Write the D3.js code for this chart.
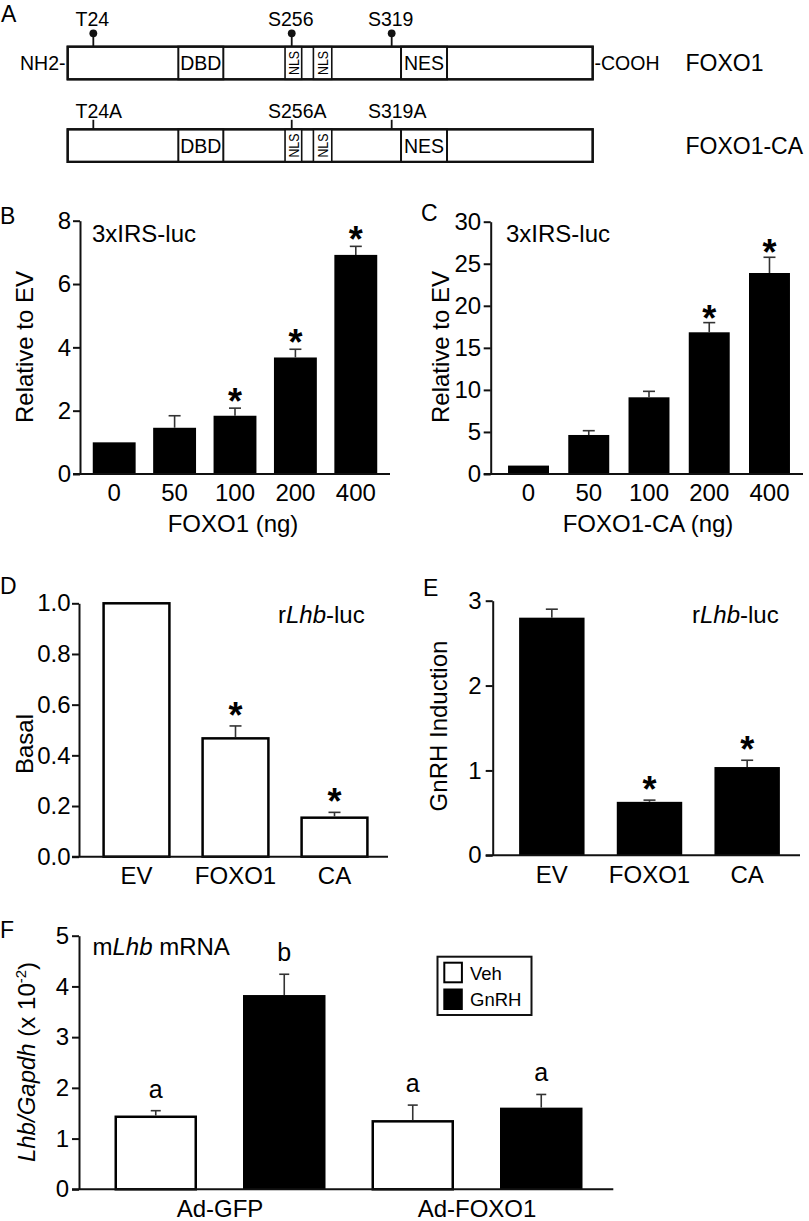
<!DOCTYPE html>
<html><head><meta charset="utf-8">
<script src="https://cdn.jsdelivr.net/npm/d3@7"></script>
<style>
body{margin:0;background:#fff}
svg{display:block}
text{font-family:"Liberation Sans",Arial,Helvetica,sans-serif;fill:#000}
</style>
</head><body>
<svg id="fig" width="809" height="1221"></svg>
<script>
// ---------------- DATA ----------------
// Panel A (schematic positions in relative units 0-100 along the protein)
const domainNames = ["DBD", "NLS", "NLS", "NES"];
const domainStarts = [21.07, 41.40, 46.80, 63.49];
const domainEnds = [29.64, 44.57, 50.30, 72.25];
const siteLabels = ["T24", "S256", "S319"];
const mutantLabels = ["T24A", "S256A", "S319A"];
const sitePositions = [4.88, 42.67, 61.71];

// Panel B
const doseLabels = ["0", "50", "100", "200", "400"];
const foxo1Values = [1.0, 1.46, 1.84, 3.68, 6.92];
const foxo1Errors = [0, 0.38, 0.24, 0.26, 0.27];
const foxo1Sig = [false, false, true, true, true];
const bTicks = [0, 2, 4, 6, 8];

// Panel C
const caValues = [1.0, 4.64, 9.12, 16.85, 23.9];
const caErrors = [0, 0.51, 0.71, 1.15, 1.87];
const caSig = [false, false, false, true, true];
const cTicks = [0, 5, 10, 15, 20, 25, 30];

// Panel D
const constructLabels = ["EV", "FOXO1", "CA"];
const basalValues = [1.0, 0.467, 0.154];
const basalErrors = [0, 0.049, 0.021];
const basalSig = [false, true, true];
const dTicks = [0, 0.2, 0.4, 0.6, 0.8, 1.0];

// Panel E
const inductionValues = [2.80, 0.63, 1.04];
const inductionErrors = [0.10, 0.02, 0.08];
const inductionSig = [false, true, true];
const eTicks = [0, 1, 2, 3];

// Panel F
const adLabels = ["Ad-GFP", "Ad-FOXO1"];
const treatments = ["Veh", "GnRH"];
const vehValues = [1.43, 1.34];
const vehErrors = [0.12, 0.32];
const gnrhValues = [3.83, 1.61];
const gnrhErrors = [0.41, 0.26];
const vehLetters = ["a", "a"];
const gnrhLetters = ["b", "a"];
const fTicks = [0, 1, 2, 3, 4, 5];

// ---------------- DRAWING ----------------
const svg = d3.select("#fig");
const FS = 24;

function panelLetter(t, x, y) {
  svg.append("text").attr("x", x).attr("y", y).attr("font-size", 23).text(t);
}

function styleAxis(g, fs) {
  g.attr("font-size", fs).attr("font-family", '"Liberation Sans",Arial,sans-serif');
  g.selectAll("path.domain").attr("stroke", "#111").attr("stroke-width", 2);
  g.selectAll(".tick line").attr("stroke", "#111").attr("stroke-width", 2);
  g.selectAll(".tick text").attr("fill", "#000");
}

function barPanel(o) {
  const g = svg.append("g");
  const y = d3.scaleLinear().domain(o.domain).range([o.yBottom, o.yTop]);
  const x = d3.scaleBand().domain(o.cats).range(o.xRange).paddingInner(o.pad).paddingOuter(o.pad / 2);
  const white = o.fill === "#fff";
  const rows = o.values.map((v, i) => ({v, e: o.errors[i], s: o.sig[i], c: o.cats[i]}));
  const cx = d => x(d.c) + x.bandwidth() / 2;
  g.selectAll("rect.bar").data(rows).join("rect")
    .attr("class", "bar")
    .attr("x", d => x(d.c) + (white ? 1.25 : 0))
    .attr("width", x.bandwidth() - (white ? 2.5 : 0))
    .attr("y", d => y(d.v))
    .attr("height", d => y(0) - y(d.v))
    .attr("fill", o.fill)
    .attr("stroke", white ? "#000" : "none")
    .attr("stroke-width", white ? 2.5 : 0);
  const withErr = rows.filter(d => d.e > 0);
  g.selectAll("line.err").data(withErr).join("line").attr("class", "err")
    .attr("x1", cx).attr("x2", cx)
    .attr("y1", d => y(d.v) - (white ? 1.2 : 0))
    .attr("y2", d => y(d.v + d.e))
    .attr("stroke", "#333").attr("stroke-width", 1.6);
  g.selectAll("line.cap").data(withErr).join("line").attr("class", "cap")
    .attr("x1", d => cx(d) - 6).attr("x2", d => cx(d) + 6)
    .attr("y1", d => y(d.v + d.e)).attr("y2", d => y(d.v + d.e))
    .attr("stroke", "#333").attr("stroke-width", 1.6);
  g.selectAll("text.sig").data(rows.filter(d => d.s)).join("text").attr("class", "sig")
    .attr("x", cx)
    .attr("y", d => y(d.v + d.e) - o.starGap + 21)
    .attr("text-anchor", "middle")
    .attr("font-size", 36).attr("font-weight", "bold")
    .text("*");
  const ya = g.append("g").attr("transform", `translate(${o.axisX},0)`)
    .call(d3.axisLeft(y).tickValues(o.ticks).tickSize(7).tickSizeOuter(0)
      .tickPadding(o.tickPad).tickFormat(o.fmt || d3.format("d")));
  styleAxis(ya, FS);
  const xa = g.append("g").attr("transform", `translate(0,${y(0)})`)
    .call(d3.axisBottom(x).tickSize(0).tickPadding(o.xPad));
  styleAxis(xa, FS);
  xa.select("path.domain").remove();
  g.append("line").attr("x1", o.axisX - 7).attr("x2", o.xEnd)
    .attr("y1", y(0)).attr("y2", y(0)).attr("stroke", "#111").attr("stroke-width", 2);
  const yl = g.append("text")
    .attr("transform", `translate(${o.ylX},${o.ylY}) rotate(-90)`)
    .attr("text-anchor", "middle").attr("font-size", FS);
  o.ylabel(yl);
  if (o.xtitle) {
    g.append("text").attr("x", o.xtitle[1]).attr("y", o.xtitle[2])
      .attr("text-anchor", "middle").attr("font-size", FS).text(o.xtitle[0]);
  }
  return {x, y, g};
}

// ---- Panel A ----
panelLetter("A", 1, 22);
const protein = d3.scaleLinear().domain([0, 100]).range([67.7, 592.7]);
const proteinRows = [{top: 46.7, labels: siteLabels, pin: true, name: "FOXO1"},
                     {top: 129.3, labels: mutantLabels, pin: false, name: "FOXO1-CA"}];
const boxH = 32.6;
const AFS = 19.5;
proteinRows.forEach((r, ri) => {
  const g = svg.append("g");
  g.append("rect").attr("x", protein(0)).attr("y", r.top)
    .attr("width", protein(100) - protein(0)).attr("height", boxH)
    .attr("fill", "#fff").attr("stroke", "#111").attr("stroke-width", 2.2);
  domainNames.forEach((n, i) => {
    const x0 = protein(domainStarts[i]), x1 = protein(domainEnds[i]);
    g.append("rect").attr("x", x0).attr("y", r.top).attr("width", x1 - x0).attr("height", boxH)
      .attr("fill", "#fff").attr("stroke", "#111").attr("stroke-width", n === "NLS" ? 1.6 : 2);
    const cx = (x0 + x1) / 2, cy = r.top + boxH / 2;
    if (n === "NLS") {
      g.append("text").attr("transform", `translate(${cx + 5.2},${cy}) rotate(-90)`)
        .attr("text-anchor", "middle").attr("font-size", 14.5)
        .attr("textLength", 24).attr("lengthAdjust", "spacingAndGlyphs").text(n);
    } else {
      g.append("text").attr("x", cx).attr("y", cy + 7).attr("text-anchor", "middle")
        .attr("font-size", 19.5).text(n);
    }
  });
  g.append("rect").attr("x", protein(0)).attr("y", r.top)
    .attr("width", protein(100) - protein(0)).attr("height", boxH)
    .attr("fill", "none").attr("stroke", "#111").attr("stroke-width", 2.2);
  sitePositions.forEach((p, i) => {
    const px = protein(p);
    if (r.pin) {
      g.append("line").attr("x1", px).attr("x2", px).attr("y1", r.top - 13).attr("y2", r.top)
        .attr("stroke", "#111").attr("stroke-width", 1.8);
      g.append("circle").attr("cx", px).attr("cy", r.top - 13.4).attr("r", 3.9).attr("fill", "#111");
      g.append("text").attr("x", px - 1).attr("y", r.top - 20.5).attr("text-anchor", "middle")
        .attr("font-size", AFS).text(r.labels[i]);
    } else {
      g.append("line").attr("x1", px).attr("x2", px).attr("y1", r.top - 9.5).attr("y2", r.top)
        .attr("stroke", "#111").attr("stroke-width", 1.8);
      const tmp = g.append("text").attr("font-size", AFS).text(siteLabels[i]);
      const w = tmp.node().getComputedTextLength();
      tmp.remove();
      g.append("text").attr("x", px - 1 - w / 2).attr("y", r.top - 11.3)
        .attr("font-size", AFS).text(r.labels[i]);
    }
  });
  if (ri === 0) {
    g.append("text").attr("x", 65.5).attr("y", r.top + 23.5).attr("text-anchor", "end")
      .attr("font-size", AFS).text("NH2-");
    g.append("text").attr("x", 594.5).attr("y", r.top + 23.5)
      .attr("font-size", AFS).text("-COOH");
  }
  g.append("text").attr("x", 685.5).attr("y", r.top + 24.3).attr("font-size", 23).text(r.name);
});

// ---- Panel B ----
panelLetter("B", 0, 224);
const pb = barPanel({
  cats: doseLabels, values: foxo1Values, errors: foxo1Errors, sig: foxo1Sig,
  domain: [0, 8], yBottom: 474, yTop: 220.7, xRange: [84, 386], pad: 0.29,
  fill: "#000", ticks: bTicks, axisX: 80, xEnd: 390, tickPad: 2, xPad: 9.5,
  starGap: 15, ylX: 33, ylY: 347,
  ylabel: t => t.text("Relative to EV"), xtitle: ["FOXO1 (ng)", 233, 532]
});
pb.g.append("text").attr("x", 92).attr("y", 242).attr("font-size", FS).text("3xIRS-luc");

// ---- Panel C ----
panelLetter("C", 421, 221);
const pc = barPanel({
  cats: doseLabels, values: caValues, errors: caErrors, sig: caSig,
  domain: [0, 30], yBottom: 474, yTop: 221.7, xRange: [498.4, 799.6], pad: 0.32,
  fill: "#000", ticks: cTicks, axisX: 490.7, xEnd: 803, tickPad: 2.5, xPad: 9.5,
  starGap: 13, ylX: 449, ylY: 347,
  ylabel: t => t.text("Relative to EV"), xtitle: ["FOXO1-CA (ng)", 648, 532]
});
pc.g.append("text").attr("x", 506).attr("y", 242).attr("font-size", FS).text("3xIRS-luc");

// ---- Panel D ----
panelLetter("D", 0, 594);
const pd = barPanel({
  cats: constructLabels, values: basalValues, errors: basalErrors, sig: basalSig,
  domain: [0, 1], yBottom: 856.7, yTop: 603.3, xRange: [87, 384], pad: 0.31,
  fill: "#fff", ticks: dTicks, axisX: 79, xEnd: 388, tickPad: 1.5, xPad: 9.8,
  fmt: d3.format(".1f"), starGap: 19, ylX: 33, ylY: 744,
  ylabel: t => t.text("Basal")
});
function lhbLuc(g, x, y) {
  const t = g.append("text").attr("x", x).attr("y", y).attr("font-size", FS);
  t.append("tspan").text("r");
  t.append("tspan").attr("font-style", "italic").text("Lhb");
  t.append("tspan").text("-luc");
}
lhbLuc(pd.g, 278, 623);

// ---- Panel E ----
panelLetter("E", 423, 596);
const pe = barPanel({
  cats: constructLabels, values: inductionValues, errors: inductionErrors, sig: inductionSig,
  domain: [0, 3], yBottom: 855.3, yTop: 600.7, xRange: [503, 796], pad: 0.33,
  fill: "#000", ticks: eTicks, axisX: 492.7, xEnd: 800, tickPad: 4, xPad: 11,
  starGap: 19, ylX: 447, ylY: 726,
  ylabel: t => t.text("GnRH Induction")
});
lhbLuc(pe.g, 692, 623);

// ---- Panel F ----
panelLetter("F", 0, 938);
(function () {
  const g = svg.append("g");
  const y = d3.scaleLinear().domain([0, 5]).range([1189.3, 935.7]);
  const x0 = d3.scaleBand().domain(adLabels).range([91.5, 605.5]).padding(0);
  const x1 = d3.scaleBand().domain(treatments).range([0, x0.bandwidth()]).paddingInner(0.358).paddingOuter(0.179);
  const series = [
    {t: "Veh", values: vehValues, errors: vehErrors, letters: vehLetters, fill: "#fff"},
    {t: "GnRH", values: gnrhValues, errors: gnrhErrors, letters: gnrhLetters, fill: "#000"}
  ];
  series.forEach(s => {
    const white = s.fill === "#fff";
    const sg = g.append("g");
    const rows = s.values.map((v, i) => ({v, e: s.errors[i], l: s.letters[i], a: adLabels[i]}));
    const cx = d => x0(d.a) + x1(s.t) + x1.bandwidth() / 2;
    sg.selectAll("rect").data(rows).join("rect")
      .attr("x", d => x0(d.a) + x1(s.t) + (white ? 1.25 : 0))
      .attr("width", x1.bandwidth() - (white ? 2.5 : 0))
      .attr("y", d => y(d.v)).attr("height", d => y(0) - y(d.v))
      .attr("fill", s.fill).attr("stroke", white ? "#000" : "none").attr("stroke-width", white ? 2.5 : 0);
    sg.selectAll("line.v").data(rows).join("line").attr("class", "v")
      .attr("x1", cx).attr("x2", cx)
      .attr("y1", d => y(d.v) - (white ? 1.2 : 0)).attr("y2", d => y(d.v + d.e))
      .attr("stroke", "#333").attr("stroke-width", 1.6);
    sg.selectAll("line.c").data(rows).join("line").attr("class", "c")
      .attr("x1", d => cx(d) - 5).attr("x2", d => cx(d) + 5)
      .attr("y1", d => y(d.v + d.e)).attr("y2", d => y(d.v + d.e))
      .attr("stroke", "#333").attr("stroke-width", 1.6);
    sg.selectAll("text").data(rows).join("text")
      .attr("x", cx).attr("y", d => y(d.v + d.e) - 13)
      .attr("text-anchor", "middle").attr("font-size", 25)
      .text(d => d.l);
  });
  const ya = g.append("g").attr("transform", "translate(79,0)")
    .call(d3.axisLeft(y).tickValues(fTicks).tickSize(7).tickSizeOuter(0).tickPadding(3).tickFormat(d3.format("d")));
  styleAxis(ya, FS);
  const xa = g.append("g").attr("transform", `translate(0,${y(0)})`)
    .call(d3.axisBottom(x0).tickSize(0).tickPadding(10.5));
  styleAxis(xa, FS);
  xa.select("path.domain").remove();
  g.append("line").attr("x1", 72).attr("x2", 613.3).attr("y1", y(0)).attr("y2", y(0))
    .attr("stroke", "#111").attr("stroke-width", 2);
  const yl = g.append("text").attr("transform", "translate(35,1062) rotate(-90)")
    .attr("text-anchor", "middle").attr("font-size", FS);
  yl.append("tspan").attr("font-style", "italic").text("Lhb/Gapdh");
  yl.append("tspan").text(" (x 10");
  yl.append("tspan").attr("font-size", 15).attr("dy", -9).text("-2");
  yl.append("tspan").attr("dy", 9).text(")");
  const t = g.append("text").attr("x", 92.5).attr("y", 955).attr("font-size", FS);
  t.append("tspan").text("m");
  t.append("tspan").attr("font-style", "italic").text("Lhb");
  t.append("tspan").text(" mRNA");
  const lg = g.append("g");
  lg.append("rect").attr("x", 437.5).attr("y", 956.7).attr("width", 94).attr("height", 58.3)
    .attr("fill", "#fff").attr("stroke", "#111").attr("stroke-width", 2);
  series.forEach((s, i) => {
    const yy = 962 + i * 26.5;
    lg.append("rect").attr("x", i === 0 ? 444.3 : 443.3).attr("y", i === 0 ? yy + 0.7 : yy)
      .attr("width", i === 0 ? 17.6 : 19.5).attr("height", i === 0 ? 19.6 : 21.5)
      .attr("fill", s.fill).attr("stroke", i === 0 ? "#000" : "none").attr("stroke-width", 2);
    lg.append("text").attr("x", 470).attr("y", yy + 17.5).attr("font-size", 18.5).text(s.t);
  });
})();
</script>
</body></html>
